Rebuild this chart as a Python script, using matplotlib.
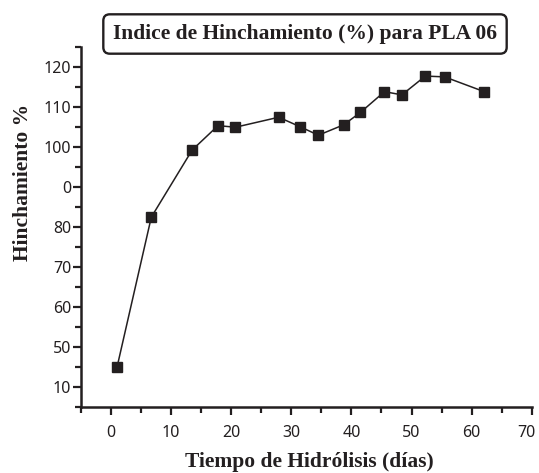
import numpy as np
import matplotlib
matplotlib.use("Agg")
import matplotlib.pyplot as plt
import matplotlib.transforms as mtransforms
from matplotlib.ticker import MultipleLocator

# data
dias = [1, 6.7, 13.5, 17.8, 20.7, 27.9, 31.5, 34.5, 38.7, 41.5, 45.5, 48.4, 52.3, 55.5, 62.1]
hinchamiento = [45.0, 82.5, 99.3, 105.4, 105.0, 107.5, 105.1, 103.0, 105.6, 108.7,
                113.9, 113.1, 117.8, 117.6, 113.9]

y_ticks = [40, 50, 60, 70, 80, 90, 100, 110, 120]
y_tick_labels = ["10", "50", "60", "70", "80", "0", "100", "110", "120"]
x_ticks = [0, 10, 20, 30, 40, 50, 60, 70]

titulo = "Indice de Hinchamiento (%) para PLA 06"
x_label = "Tiempo de Hidrólisis (días)"
y_label = "Hinchamiento %"

ink = "#231f20"
serif = "Liberation Serif"
sans = "Noto Sans"

fig = plt.figure(figsize=(5.39, 4.73), dpi=100)
ax = fig.add_axes([81 / 539, 1 - 407 / 473, 450.7 / 539, 359.7 / 473])

ax.plot(dias, hinchamiento, color=ink, lw=1.1, marker="s", ms=6.5,
        mfc=ink, mec=ink, zorder=3)

ax.set_xlim(-5, 70)
ax.set_ylim(35, 125)

ax.set_xticks(x_ticks)
ax.set_xticklabels([str(t) for t in x_ticks])
ax.xaxis.set_minor_locator(MultipleLocator(5))
ax.set_yticks(y_ticks)
ax.set_yticklabels(y_tick_labels)
ax.yaxis.set_minor_locator(MultipleLocator(5))

for s in ["top", "right"]:
    ax.spines[s].set_visible(False)
for s in ["left", "bottom"]:
    ax.spines[s].set_linewidth(1.8)
    ax.spines[s].set_color(ink)

ax.tick_params(axis="both", which="major", length=6, width=1.6, color=ink,
               labelcolor=ink, labelsize=11.5, direction="out")
ax.tick_params(axis="both", which="minor", length=4.5, width=1.6, color=ink,
               direction="out")
ax.tick_params(axis="x", which="major", pad=7)
ax.tick_params(axis="y", which="major", pad=1)
for lab in ax.get_xticklabels() + ax.get_yticklabels():
    lab.set_fontfamily(sans)

# the "70" sits a little left of its tick so it stays inside the picture
last = ax.get_xticklabels()[-1]
last.set_transform(last.get_transform() +
                   mtransforms.ScaledTranslation(-5 / 100, 0, fig.dpi_scale_trans))

# axis titles
fig.text(309 / 539, 1 - 462 / 473, x_label, ha="center", va="center",
         fontsize=15.5, fontweight="bold", family=serif, color=ink)
fig.text(23 / 539, 1 - 182 / 473, y_label, ha="center", va="center",
         rotation=90, fontsize=15.5, fontweight="bold", family=serif, color=ink)

# boxed title
fig.text(305 / 539, 1 - 34 / 473, titulo, ha="center", va="center",
         fontsize=15.5, fontweight="bold", family=serif, color=ink,
         bbox=dict(boxstyle="round,pad=0.45,rounding_size=0.3", fc="white",
                   ec=ink, lw=1.7))

fig.savefig("out.png", dpi=100)
